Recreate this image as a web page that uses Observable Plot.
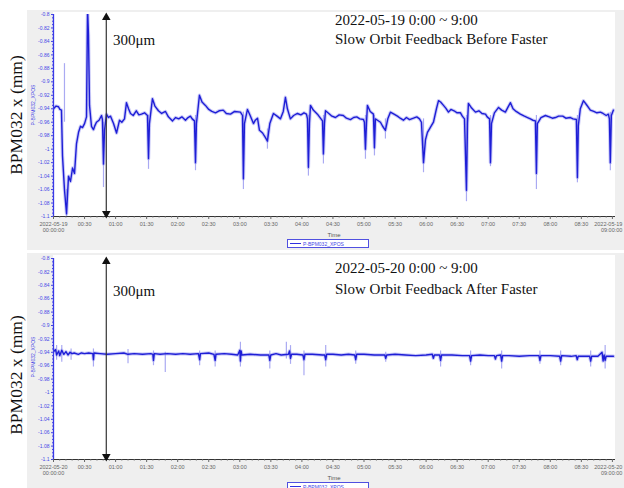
<!DOCTYPE html>
<html><head><meta charset="utf-8">
<script src="https://cdn.jsdelivr.net/npm/d3@7"></script>
<script src="https://cdn.jsdelivr.net/npm/@observablehq/plot@0.6"></script>
<style>
body{margin:0;width:624px;height:488px;background:#fff;position:relative;overflow:hidden;font-family:"Liberation Serif",serif}
.panel{position:absolute;left:27px;width:597px;background:#efefef}
.white{position:absolute;background:#fff;left:53px;width:562px}
.abs{position:absolute;white-space:nowrap;line-height:1}
.title{font-size:15px;color:#111}
.big{font-size:17.5px;color:#111;transform:translate(-50%,-50%) rotate(-90deg)}
.ylab{font-family:"Liberation Sans",sans-serif;font-size:5px;color:#4646e6;transform:translate(-50%,-50%) rotate(-90deg)}
.time{font-family:"Liberation Sans",sans-serif;font-size:6px;color:#555;transform:translate(-50%,-50%)}
.legend{border:1px solid #5050e0;background:#fff;width:82px;height:9px;font-family:"Liberation Sans",sans-serif;font-size:5px;color:#4646e6;box-sizing:border-box}
.legend span.l{position:absolute;left:2px;top:3px;width:11px;border-top:1px solid #3030e0}
.legend span.t{position:absolute;left:15px;top:1.5px}
svg{position:absolute;left:27px}
</style></head><body>
<script>
// ---- data ----
const yTicks = [-0.8,-0.82,-0.84,-0.86,-0.88,-0.9,-0.92,-0.94,-0.96,-0.98,-1,-1.02,-1.04,-1.06,-1.08,-1.1];
const xTicks = [0,30,60,90,120,150,180,210,240,270,300,330,360,390,420,450,480,510,540];
const xTickLabelsBefore = ["2022-05-19\n00:00:00","00:30","01:00","01:30","02:00","02:30","03:00","03:30","04:00","04:30","05:00","05:30","06:00","06:30","07:00","07:30","08:00","08:30","2022-05-19\n09:00:00"];
const xTickLabelsAfter = ["2022-05-20\n00:00:00","00:30","01:00","01:30","02:00","02:30","03:00","03:30","04:00","04:30","05:00","05:30","06:00","06:30","07:00","07:30","08:00","08:30","2022-05-20\n09:00:00"];
const arrowAt = [51];

// 2022-05-19, minutes after 00:00, BPM032 x (mm)
const beforeMin = [0,2.5,4.8,6.2,7.7,8.7,10.6,12.6,14.5,16.4,18.4,20.3,22.2,24.2,26.1,28,30,31.9,32.9,33.8,34.8,36.7,38.6,40,41.5,44,46.4,47.3,48.3,49.3,51.2,53,55.1,58,60.9,63.8,66,68.6,70.5,72.5,74.4,77,80,82.5,85,88,90.8,91.8,92.7,95.6,98,101.4,104.5,108.2,111,115,118,121,124,127.5,130,132.3,134,136.2,137.2,138.1,141,143.5,146.8,150,153,156.5,160,164,167,171,175,180.6,182.6,183.5,184.5,187.4,190,193.2,195,197.1,199,202,204.8,206.7,209,212.5,216,219.3,222,224.1,226,228.9,232,235.7,239,242,244.4,245.4,246.3,247.3,248.3,251,255,257.9,259.9,260.8,261.8,262.8,266,269,272.4,276,280,283,286.9,290,293,296,299.5,300.4,301.4,302.4,303.3,306,309.1,310.1,311,313,315.9,318,320.7,323,325.5,329,332.3,335,338.1,341,344,347.8,351,353.6,355.5,357.5,359.4,361.3,364,367.1,370,372,374,376.8,379,381.6,384,387,390,393.2,395,397.1,399,400,400.9,404,407.7,411,414,417.4,419,421.3,422.2,423.2,426,430,433,436.6,439,441.5,444,447,451.1,455,458,460.8,463,465.6,466.6,467.5,471,475.3,479,482,485,488,492,495,499.4,502,505.2,506.2,507.1,509,512,515,518.7,522,525,528.4,531,534,536.1,537.1,538,539,541];
const beforeVal = [-0.940,-0.936,-0.937,-0.941,-0.942,-1.010,-1.060,-1.096,-1.040,-1.048,-1.028,-1.036,-0.992,-0.975,-0.966,-0.968,-0.962,-0.952,-0.790,-0.830,-0.935,-0.966,-0.971,-0.965,-0.960,-0.957,-0.950,-0.956,-1.022,-0.972,-0.948,-0.953,-0.951,-0.962,-0.976,-0.957,-0.960,-0.955,-0.931,-0.940,-0.947,-0.950,-0.943,-0.949,-0.948,-0.946,-0.950,-1.014,-0.962,-0.925,-0.936,-0.943,-0.947,-0.944,-0.952,-0.958,-0.953,-0.955,-0.952,-0.957,-0.953,-0.951,-0.955,-0.958,-1.020,-0.962,-0.920,-0.930,-0.935,-0.941,-0.944,-0.946,-0.943,-0.942,-0.947,-0.948,-0.944,-0.945,-0.950,-1.044,-0.962,-0.941,-0.950,-0.962,-0.957,-0.954,-0.972,-0.976,-0.983,-0.988,-0.962,-0.947,-0.951,-0.955,-0.944,-0.923,-0.940,-0.955,-0.950,-0.947,-0.949,-0.946,-0.948,-0.955,-1.027,-0.962,-0.935,-0.942,-0.948,-0.954,-0.958,-1.007,-0.962,-0.943,-0.947,-0.951,-0.953,-0.949,-0.950,-0.954,-0.956,-0.953,-0.952,-0.955,-0.956,-0.960,-1.000,-0.962,-0.935,-0.944,-0.948,-0.998,-0.955,-0.957,-0.960,-0.966,-0.972,-0.955,-0.945,-0.948,-0.951,-0.954,-0.957,-0.953,-0.956,-0.954,-0.952,-0.955,-0.960,-1.020,-0.986,-0.975,-0.968,-0.960,-0.940,-0.928,-0.930,-0.935,-0.939,-0.945,-0.941,-0.943,-0.946,-0.946,-0.951,-0.955,-1.061,-0.962,-0.932,-0.939,-0.945,-0.943,-0.947,-0.948,-0.952,-0.955,-1.020,-0.962,-0.946,-0.938,-0.942,-0.945,-0.938,-0.931,-0.940,-0.944,-0.948,-0.951,-0.953,-0.955,-0.957,-0.958,-1.036,-0.962,-0.953,-0.950,-0.952,-0.954,-0.953,-0.951,-0.951,-0.954,-0.953,-0.955,-0.956,-1.042,-0.965,-0.940,-0.928,-0.934,-0.942,-0.944,-0.946,-0.945,-0.947,-0.950,-0.948,-0.955,-1.020,-0.950,-0.942];
// faint min/max envelope spikes
const beforeFaintMin = [10.6,12.6,48.3,91.8,137.2,183.5,206.7,246.3,260.8,301.4,310.1,320.7,357.5,399,422.2,466.6,506.2,538];
const beforeFaintLo = [-0.960,-1.100,-1.057,-1.030,-1.032,-1.060,-1.000,-1.040,-1.022,-1.015,-1.010,-0.985,-1.035,-1.078,-1.026,-1.060,-1.050,-1.032];
const beforeFaintHi = [-0.873,-1.060,-0.960,-0.950,-0.950,-0.945,-0.970,-0.950,-0.950,-0.950,-0.950,-0.955,-0.955,-0.950,-0.950,-0.950,-0.950,-0.945];

// 2022-05-20, minutes after 00:00, BPM032 x (mm)
const afterMin = [0,2,3,5,6,8,10,12,14,16,18,20,24,27,30,34,38,38.6,39.2,45,52,60,68,72,78,86,94,96,96.6,97.4,103,110,118,125,132,140,141.2,142,150,155,156.2,157,165,172,178,180,180.6,181.3,182,190,200,208,209,210,215,220,227,228,229,230,235,241,242,243,250,260,262,263,264,270,278,285,291,292,293,300,310,320,321,322,330,340,350,360,366,367,368,373,374,375,385,395,402,403,404,412,420,426,427,428,432,433,434,440,450,460,469,470,471,480,489,490,491,500,505,506,507,512,518,519,520,526,530,531,532,533,534,541];
const afterVal = [-0.939,-0.936,-0.944,-0.938,-0.945,-0.937,-0.943,-0.939,-0.944,-0.940,-0.942,-0.941,-0.943,-0.941,-0.942,-0.941,-0.942,-0.951,-0.941,-0.942,-0.943,-0.942,-0.941,-0.943,-0.942,-0.943,-0.942,-0.943,-0.952,-0.942,-0.943,-0.942,-0.943,-0.942,-0.943,-0.942,-0.951,-0.942,-0.941,-0.943,-0.952,-0.943,-0.942,-0.943,-0.944,-0.937,-0.953,-0.938,-0.944,-0.943,-0.944,-0.944,-0.952,-0.944,-0.942,-0.944,-0.943,-0.938,-0.949,-0.943,-0.943,-0.944,-0.951,-0.943,-0.943,-0.944,-0.944,-0.951,-0.943,-0.943,-0.944,-0.943,-0.944,-0.951,-0.943,-0.943,-0.944,-0.944,-0.949,-0.944,-0.943,-0.944,-0.945,-0.944,-0.943,-0.949,-0.944,-0.944,-0.952,-0.944,-0.944,-0.945,-0.945,-0.953,-0.945,-0.944,-0.945,-0.945,-0.950,-0.945,-0.944,-0.953,-0.945,-0.945,-0.946,-0.945,-0.945,-0.952,-0.945,-0.945,-0.946,-0.953,-0.945,-0.946,-0.945,-0.951,-0.946,-0.946,-0.946,-0.953,-0.946,-0.946,-0.940,-0.953,-0.944,-0.952,-0.946,-0.946];
const afterFaintMin = [3,8,17,38.6,72,96.6,108,141.2,156.2,180.6,209,225,229,242,263,292,321,374,403,433,470,490,519,533];
const afterFaintLo = [-0.952,-0.955,-0.952,-0.962,-0.957,-0.960,-0.970,-0.960,-0.962,-0.962,-0.965,-0.950,-0.958,-0.975,-0.962,-0.958,-0.955,-0.962,-0.960,-0.965,-0.958,-0.960,-0.962,-0.965];
const afterFaintHi = [-0.930,-0.930,-0.935,-0.935,-0.936,-0.938,-0.940,-0.938,-0.938,-0.925,-0.938,-0.925,-0.930,-0.938,-0.930,-0.938,-0.940,-0.938,-0.938,-0.938,-0.938,-0.938,-0.938,-0.930];

// ---- drawing ----
function el(cls, style, text) {
  const d = document.createElement("div");
  d.className = cls; Object.assign(d.style, style);
  if (text != null) d.textContent = text;
  document.body.appendChild(d); return d;
}

function drawPanel(o) {
  el("panel", {top: o.top + "px", height: o.height + "px"});
  el("white", {top: o.whiteTop + "px", height: o.whiteH + "px"});
  const data = o.times.map((t, i) => ({t, v: o.vals[i]}));
  const faint = o.faintT.map((t, i) => ({t, lo: o.faintLo[i], hi: o.faintHi[i]}));
  const minorX = d3.range(0, 541, 6).filter(t => t % 30 !== 0);
  const minorY = d3.range(-1.1, -0.799, 0.005).map(v => +v.toFixed(3)).filter(v => !yTicks.some(t => Math.abs(t - v) < 1e-6));
  const lastTick = xTicks[xTicks.length - 1];
  const svg = Plot.plot({
    width: 597, height: o.height,
    marginLeft: 26, marginRight: 9, marginTop: o.mTop, marginBottom: o.mBottom,
    x: {domain: [0, 543], axis: null, label: null},
    y: {domain: [-1.1, -0.8], axis: null, label: null},
    style: {background: "transparent", overflow: "visible", fontFamily: "Liberation Sans, sans-serif"},
    marks: [
      Plot.ruleX(faint, {x: "t", y1: "lo", y2: "hi", stroke: "#aaaaf2", strokeWidth: 1.2, clip: true}),
      Plot.line(data, {x: "t", y: "v", stroke: "#8c8cf0", strokeWidth: 3.4, strokeOpacity: 0.45, clip: true}),
      Plot.line(data, {x: "t", y: "v", stroke: "#1e1ed6", strokeWidth: 1.4, clip: true}),
      Plot.axisY({ticks: yTicks, tickFormat: d => String(d), tickSize: 2, tickPadding: 2, fontSize: 5, color: "#4646e6", label: null}),
      Plot.axisY({ticks: minorY, tickFormat: () => "", tickSize: 1, color: "#4646e6", label: null}),
      Plot.ruleX([0], {stroke: "#3a3ae6", strokeWidth: 1.3}),
      Plot.ruleY([-1.1], {stroke: "#333", strokeWidth: 1}),
      Plot.axisX({ticks: xTicks, tickFormat: d => d === lastTick ? "" : o.xLabels[xTicks.indexOf(d)], tickSize: 3, tickPadding: 3, fontSize: 5.5, color: "#666", label: null}),
      Plot.axisX({ticks: minorX, tickFormat: () => "", tickSize: 1.5, color: "#666", label: null}),
      Plot.text([lastTick], {x: d => d, y: -1.1, text: () => o.xLabels[xTicks.length - 1], textAnchor: "end", lineAnchor: "top", dx: 10, dy: 6, fontSize: 5.5, fill: "#666"}),
      Plot.ruleX(arrowAt, {x: d => d, y1: -0.8, y2: -1.1, stroke: "#333", strokeWidth: 1.2, insetTop: 3, insetBottom: 3}),
      Plot.dot(arrowAt, {x: d => d, y: -0.8, symbol: "triangle", r: 3.2, fill: "#111", stroke: "none", dy: 3}),
      Plot.dot(arrowAt, {x: d => d, y: -1.1, symbol: "triangle", r: 3.2, fill: "#111", stroke: "none", dy: -3, rotate: 180})
    ]
  });
  svg.style.top = o.top + "px";
  document.body.appendChild(svg);
  // annotations
  el("abs big", {left: "17px", top: o.bigY + "px"}, "BPM032 x (mm)");
  el("abs ylab", {left: "33px", top: o.ylabY + "px"}, "P-BPM032_XPOS");
  el("abs title", {left: "335px", top: o.t1 + "px"}, o.title1);
  el("abs title", {left: "335px", top: o.t2 + "px"}, o.title2);
  el("abs title", {left: "113px", top: o.umY + "px"}, "300μm");
  el("abs time", {left: "334px", top: o.timeY + "px"}, "Time");
  const lg = el("abs legend", {left: "287px", top: o.legY + "px"});
  const l = document.createElement("span"); l.className = "l abs"; lg.appendChild(l);
  const t = document.createElement("span"); t.className = "t abs"; t.textContent = "P-BPM032_XPOS"; lg.appendChild(t);
}

drawPanel({top: 10, height: 240, mTop: 4, mBottom: 34, whiteTop: 12, whiteH: 204,
  times: beforeMin, vals: beforeVal, faintT: beforeFaintMin, faintLo: beforeFaintLo, faintHi: beforeFaintHi,
  xLabels: xTickLabelsBefore, bigY: 115, ylabY: 105, t1: 12.5, t2: 31.5, umY: 32.5, timeY: 234.5, legY: 239,
  title1: "2022-05-19 0:00 ~ 9:00", title2: "Slow Orbit Feedback Before Faster"});
drawPanel({top: 253, height: 235, mTop: 5, mBottom: 29, whiteTop: 255, whiteH: 204,
  times: afterMin, vals: afterVal, faintT: afterFaintMin, faintLo: afterFaintLo, faintHi: afterFaintHi,
  xLabels: xTickLabelsAfter, bigY: 375, ylabY: 357, t1: 260.7, t2: 282.4, umY: 284.4, timeY: 478, legY: 482,
  title1: "2022-05-20 0:00 ~ 9:00", title2: "Slow Orbit Feedback After Faster"});
</script>
</body></html>
